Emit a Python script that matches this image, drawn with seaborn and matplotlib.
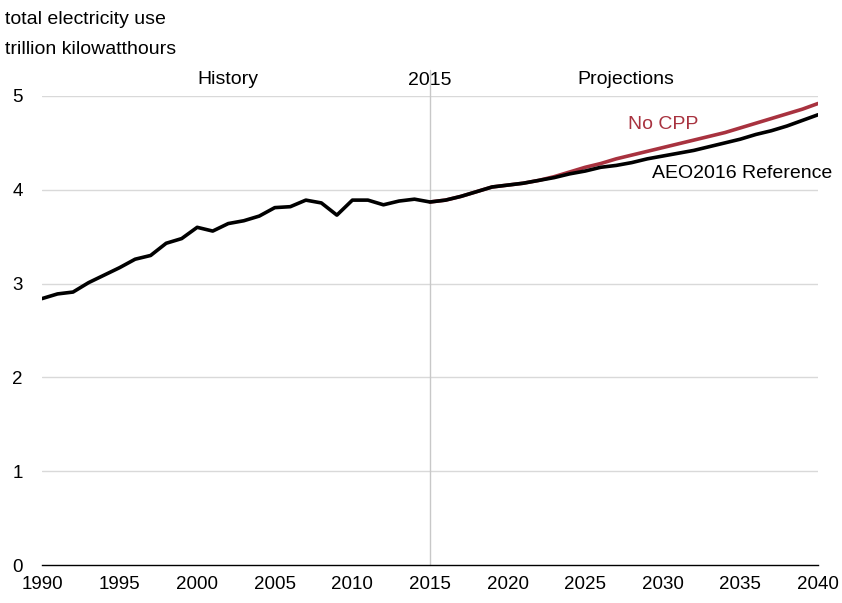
import matplotlib
matplotlib.use("Agg")
import matplotlib.pyplot as plt
import seaborn as sns
import pandas as pd

hist_years = list(range(1990, 2016))
hist_values = [2.84, 2.89, 2.91, 3.01, 3.09, 3.17, 3.26, 3.30, 3.43, 3.48, 3.60, 3.56, 3.64, 3.67, 3.72, 3.81, 3.82, 3.89, 3.86, 3.73,
               3.89, 3.89, 3.84, 3.88, 3.90, 3.87]

proj_years = list(range(2015, 2041))
ref_values = [3.87, 3.89, 3.93, 3.98, 4.03, 4.05, 4.07, 4.10, 4.13, 4.17, 4.20, 4.24, 4.26, 4.29, 4.33, 4.36, 4.39, 4.42, 4.46, 4.50,
              4.54, 4.59, 4.63, 4.68, 4.74, 4.80]
nocpp_values = [3.87, 3.89, 3.93, 3.98, 4.03, 4.05, 4.07, 4.10, 4.14, 4.19, 4.24, 4.28, 4.33, 4.37, 4.41, 4.45, 4.49, 4.53, 4.57, 4.61,
                4.66, 4.71, 4.76, 4.81, 4.86, 4.92]

x_ticks = list(range(1990, 2041, 5))
y_ticks = [0, 1, 2, 3, 4, 5]

sns.set_style("white")
plt.rcParams['font.family'] = ['Liberation Sans', 'DejaVu Sans']
plt.rcParams['text.color'] = 'black'
plt.rcParams['xtick.color'] = 'black'
plt.rcParams['ytick.color'] = 'black'
plt.rcParams['xtick.labelcolor'] = 'black'
plt.rcParams['ytick.labelcolor'] = 'black'

red = '#A8323F'

fig = plt.figure(figsize=(8.42, 6.03), dpi=100)
ax = fig.add_axes([42/842, 38/603, 776/842, 469/603])

df_nocpp = pd.DataFrame({'year': proj_years, 'value': nocpp_values})
df_ref = pd.DataFrame({'year': hist_years + proj_years[1:], 'value': hist_values + ref_values[1:]})

for y in y_ticks[1:]:
    ax.axhline(y, color='#d9d9d9', lw=1, zorder=0)
ax.plot([2015, 2015], [0, 5.28], color='#c8c8c8', lw=1, zorder=0, clip_on=False)

sns.lineplot(data=df_nocpp, x='year', y='value', color=red, lw=2.6, ax=ax, zorder=3)
sns.lineplot(data=df_ref, x='year', y='value', color='black', lw=2.6, ax=ax, zorder=4)

ax.set_xlim(1990, 2040)
ax.set_ylim(0, 5)
ax.set_xticks(x_ticks)
ax.set_yticks(y_ticks)
ax.set_xlabel('')
ax.set_ylabel('')
for s in ['top', 'right', 'left']:
    ax.spines[s].set_visible(False)
ax.spines['bottom'].set_color('black')
ax.spines['bottom'].set_linewidth(1)
ax.tick_params(axis='x', direction='out', length=6, width=1, color='black', labelsize=13.5, pad=2)
ax.tick_params(axis='y', length=0, labelsize=13.5, pad=14)

fs = 14
fig.text(5/842, 1 - 19/603, 'total electricity use', fontsize=fs, va='center', ha='left')
fig.text(5/842, 1 - 49/603, 'trillion kilowatthours', fontsize=fs, va='center', ha='left')
ax.text(2002.0, 5.18, 'History', fontsize=fs, ha='center', va='center')
ax.text(2015, 5.16, '2015', fontsize=fs, ha='center', va='center')
ax.text(2027.6, 5.18, 'Projections', fontsize=fs, ha='center', va='center')
ax.text(2030.0, 4.70, 'No CPP', fontsize=fs, ha='center', va='center', color=red)
ax.text(2035.1, 4.17, 'AEO2016 Reference', fontsize=fs, ha='center', va='center', color='black')

fig.savefig('out.png', dpi=100)
